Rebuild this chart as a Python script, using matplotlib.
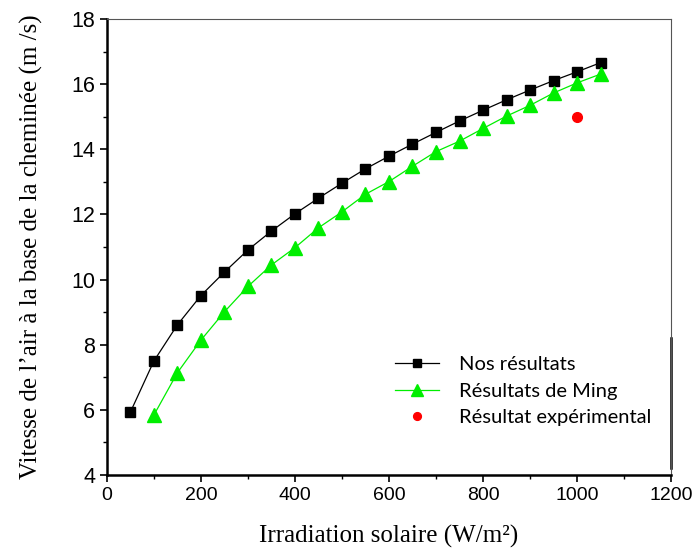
import matplotlib.pyplot as plt
from matplotlib.ticker import MultipleLocator

# Données
irradiation_nos = [50, 100, 150, 200, 250, 300, 350, 400, 450, 500, 550,
                   600, 650, 700, 750, 800, 850, 900, 950, 1000, 1050]
vitesse_nos = [5.93, 7.50, 8.61, 9.51, 10.23, 10.91, 11.49, 12.02, 12.50, 12.96,
               13.40, 13.79, 14.16, 14.52, 14.87, 15.20, 15.52, 15.82, 16.11, 16.38, 16.66]

irradiation_ming = [100, 150, 200, 250, 300, 350, 400, 450, 500, 550,
                    600, 650, 700, 750, 800, 850, 900, 950, 1000, 1050]
vitesse_ming = [5.84, 7.14, 8.14, 9.01, 9.79, 10.45, 10.98, 11.59, 12.08, 12.62,
                13.01, 13.48, 13.93, 14.25, 14.64, 15.02, 15.35, 15.73, 16.04, 16.31]

irradiation_exp = [1000]
vitesse_exp = [15.0]

plt.rcParams['font.family'] = 'Liberation Sans'

fig = plt.figure(figsize=(6.94, 5.52), dpi=100)
ax = fig.add_axes([0.154, 0.1395, 0.813, 0.826])

ax.plot(irradiation_nos, vitesse_nos, color='black', lw=0.9, marker='s',
        markersize=7.5, label='Nos résultats')
ax.plot(irradiation_ming, vitesse_ming, color='#00ee00', lw=0.9, marker='^',
        markersize=10, label='Résultats de Ming')
ax.plot(irradiation_exp, vitesse_exp, linestyle='none', color='red', marker='o',
        markersize=7, label='Résultat expérimental')

ax.set_xlim(0, 1200)
ax.set_ylim(4, 18)
ax.xaxis.set_major_locator(MultipleLocator(200))
ax.xaxis.set_minor_locator(MultipleLocator(100))
ax.yaxis.set_major_locator(MultipleLocator(2))
ax.yaxis.set_minor_locator(MultipleLocator(1))
ax.tick_params(which='major', direction='out', length=5, width=1.2,
               labelsize=14, top=False, right=False)
ax.tick_params(axis='y', labelsize=15.5)
ax.tick_params(which='minor', direction='out', length=3, width=1, top=False, right=False)

ax.spines['left'].set_linewidth(1.8)
ax.spines['bottom'].set_linewidth(1.8)
ax.spines['top'].set_linewidth(0.8)
ax.spines['right'].set_linewidth(0.8)
ax.spines['top'].set_color('#555555')
ax.spines['right'].set_color('#555555')

# petit trait plus épais sur le bord droit (comme dans l'original)
ax.plot([1, 1], [0.015, 0.30], transform=ax.transAxes, color='black',
        lw=1.8, clip_on=False)

ax.set_xlabel('Irradiation solaire (W/m²)', fontfamily='Liberation Serif',
              fontsize=18, labelpad=15)
ax.set_ylabel('Vitesse de l’air à la base de la cheminée (m /s)',
              fontfamily='Liberation Serif', fontsize=18, labelpad=20)

ax.legend(loc='upper left', bbox_to_anchor=(0.478, 0.30), frameon=False,
          prop={'family': 'Lato', 'size': 14.5}, handlelength=2.2,
          handletextpad=1.0, labelspacing=0.45, markerscale=0.8)

fig.savefig('out.png', dpi=100)
